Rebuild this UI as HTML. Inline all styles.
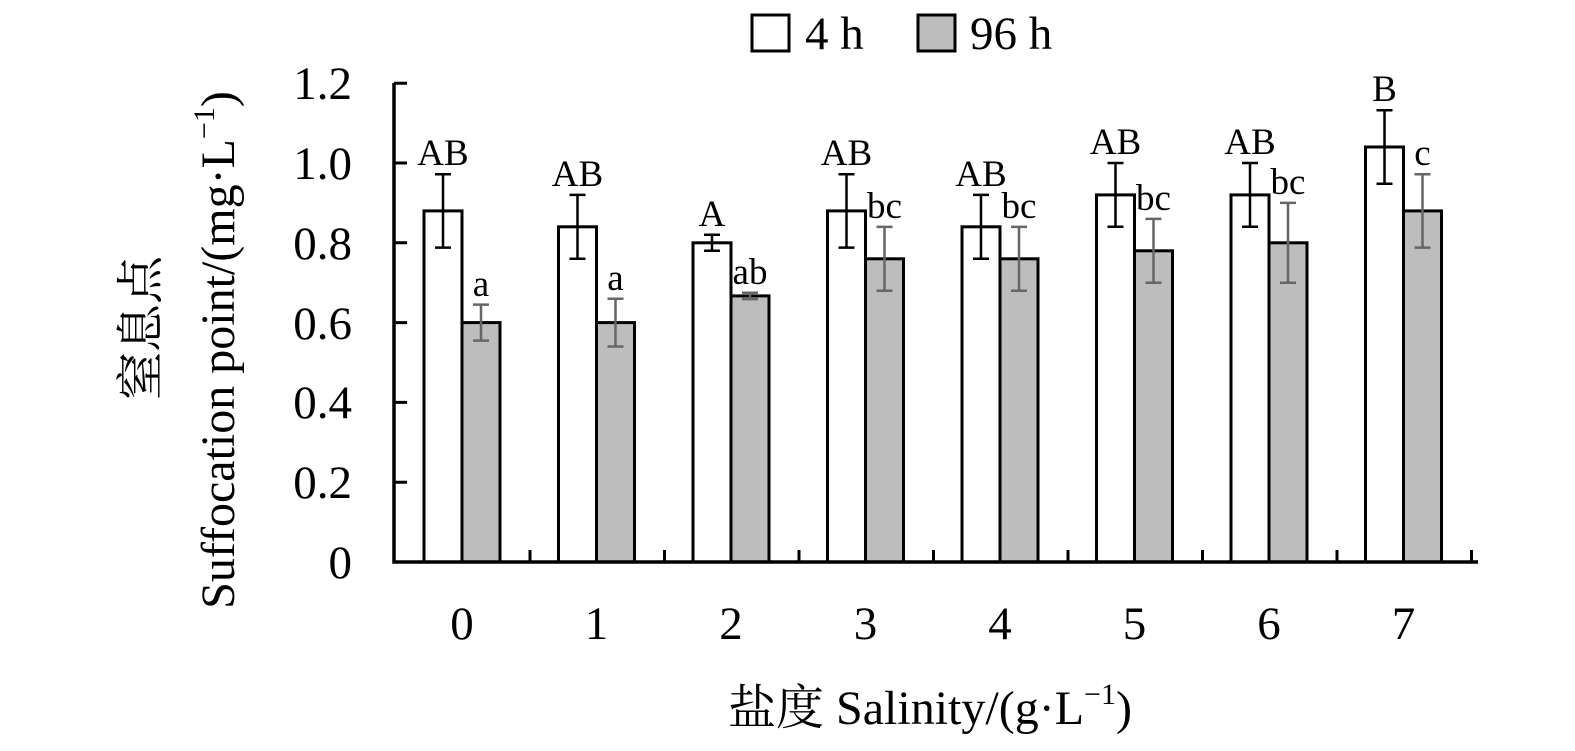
<!DOCTYPE html>
<html><head><meta charset="utf-8"><style>body{margin:0;background:#fff}</style></head><body>
<svg width="1575" height="746" xmlns="http://www.w3.org/2000/svg" font-family="'Liberation Serif','Noto Serif CJK SC',serif" fill="#000">
<g stroke="#000" stroke-width="3">
<rect x="424" y="210.9" width="38" height="351.1" fill="#fff"/><rect x="462" y="322.6" width="38" height="239.4" fill="#bdbdbd"/>
<rect x="558.5" y="226.8" width="38" height="335.2" fill="#fff"/><rect x="596.5" y="322.6" width="38" height="239.4" fill="#bdbdbd"/>
<rect x="693" y="242.8" width="38" height="319.2" fill="#fff"/><rect x="731" y="295.9" width="38" height="266.1" fill="#bdbdbd"/>
<rect x="827.5" y="210.9" width="38" height="351.1" fill="#fff"/><rect x="865.5" y="258.8" width="38" height="303.2" fill="#bdbdbd"/>
<rect x="962" y="226.8" width="38" height="335.2" fill="#fff"/><rect x="1000" y="258.8" width="38" height="303.2" fill="#bdbdbd"/>
<rect x="1096.5" y="194.9" width="38" height="367.1" fill="#fff"/><rect x="1134.5" y="250.8" width="38" height="311.2" fill="#bdbdbd"/>
<rect x="1231" y="194.9" width="38" height="367.1" fill="#fff"/><rect x="1269" y="242.8" width="38" height="319.2" fill="#bdbdbd"/>
<rect x="1365.5" y="147" width="38" height="415" fill="#fff"/><rect x="1403.5" y="210.9" width="38" height="351.1" fill="#bdbdbd"/>
</g>
<g stroke="#000" stroke-width="2.5" fill="none">
<path d="M443 174.2V247.6M435 174.2h16M435 247.6h16"/>
<path d="M577.5 194.9V258.7M569.5 194.9h16M569.5 258.7h16"/>
<path d="M712 234.8V250.8M704 234.8h16M704 250.8h16"/>
<path d="M846.5 174.2V247.6M838.5 174.2h16M838.5 247.6h16"/>
<path d="M981 194.9V258.7M973 194.9h16M973 258.7h16"/>
<path d="M1115.5 163V226.8M1107.5 163h16M1107.5 226.8h16"/>
<path d="M1250 163V226.8M1242 163h16M1242 226.8h16"/>
<path d="M1384.5 110.3V183.7M1376.5 110.3h16M1376.5 183.7h16"/>
</g>
<g stroke="#666" stroke-width="2.5" fill="none">
<path d="M481 304.6V340.6M473 304.6h16M473 340.6h16"/>
<path d="M615.5 298.7V346.5M607.5 298.7h16M607.5 346.5h16"/>
<path d="M750 292.7V299.1M742 292.7h16M742 299.1h16"/>
<path d="M884.5 226.9V290.7M876.5 226.9h16M876.5 290.7h16"/>
<path d="M1019 226.9V290.7M1011 226.9h16M1011 290.7h16"/>
<path d="M1153.5 218.9V282.7M1145.5 218.9h16M1145.5 282.7h16"/>
<path d="M1288 202.9V282.7M1280 202.9h16M1280 282.7h16"/>
<path d="M1422.5 174.2V247.6M1414.5 174.2h16M1414.5 247.6h16"/>
</g>
<g font-size="37" text-anchor="middle">
<text x="443" y="165">AB</text><text x="481" y="296">a</text>
<text x="577.5" y="186">AB</text><text x="615.5" y="290">a</text>
<text x="712" y="226">A</text><text x="750" y="284">ab</text>
<text x="846.5" y="165">AB</text><text x="884.5" y="218">bc</text>
<text x="981" y="186">AB</text><text x="1019" y="218">bc</text>
<text x="1115.5" y="154">AB</text><text x="1153.5" y="210">bc</text>
<text x="1250" y="154">AB</text><text x="1288" y="194">bc</text>
<text x="1384.5" y="101">B</text><text x="1422.5" y="165">c</text>
</g>
<g font-size="47" text-anchor="middle">
<text x="462" y="639">0</text><text x="596.5" y="639">1</text><text x="731" y="639">2</text><text x="865.5" y="639">3</text>
<text x="1000" y="639">4</text><text x="1134.5" y="639">5</text><text x="1269" y="639">6</text><text x="1403.5" y="639">7</text>
</g>
<g stroke="#000" stroke-width="3">
<path d="M530 562v-12M664.5 562v-12M799 562v-12M933.5 562v-12M1068 562v-12M1202.5 562v-12M1337 562v-12M1471.5 562v-12"/>
<path d="M394 482.2h13M394 402.4h13M394 322.6h13M394 242.8h13M394 163h13M394 83.2h13"/>
</g>
<g font-size="47" text-anchor="end">
<text x="352" y="578">0</text><text x="352" y="498">0.2</text><text x="352" y="418">0.4</text><text x="352" y="339">0.6</text>
<text x="352" y="259">0.8</text><text x="352" y="179">1.0</text><text x="352" y="99">1.2</text>
</g>
<path d="M394 83V562H1478" stroke="#000" stroke-width="3.5" fill="none"/>
<rect x="752" y="15" width="37" height="36" fill="#fff" stroke="#000" stroke-width="3"/>
<text x="805" y="49" font-size="47">4 h</text>
<rect x="918" y="15" width="37" height="36" fill="#bdbdbd" stroke="#000" stroke-width="3"/>
<text x="970" y="49" font-size="47">96 h</text>
<text x="930" y="724" font-size="48" text-anchor="middle">盐度 Salinity/(g·L<tspan font-size="30" dy="-20">−1</tspan><tspan dy="20">)</tspan></text>
<text transform="translate(234,350) rotate(-90)" font-size="48" text-anchor="middle">Suffocation point/(mg·L<tspan font-size="30" dy="-20">−1</tspan><tspan dy="20">)</tspan></text>
<text transform="translate(157,328) rotate(-90)" font-size="48" text-anchor="middle">窒息点</text>
</svg>
</body></html>
